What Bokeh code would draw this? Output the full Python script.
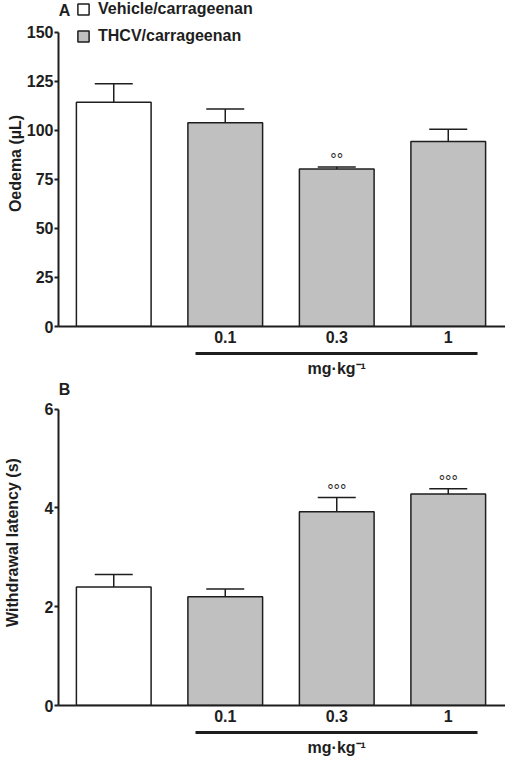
from bokeh.plotting import figure
from bokeh.models import (ColumnDataSource, FixedTicker, LinearAxis, Range1d,
                          Legend, LegendItem, Whisker, TeeHead, Label)
from bokeh.layouts import column
from bokeh.embed import file_html
from bokeh.resources import INLINE
from bokeh.core.properties import value

# ---------------- data ----------------
groups = ["Vehicle/carrageenan", "THCV/carrageenan", "THCV/carrageenan", "THCV/carrageenan"]
dose_labels = ["", "0.1", "0.3", "1"]
dose_unit = "mg·kg⁻¹"

oedema_mean = [114.2, 103.8, 80.3, 94.2]
oedema_sem = [9.5, 7.0, 1.0, 6.3]
oedema_sig = ["", "", "°°", ""]
oedema_ticks = [0, 25, 50, 75, 100, 125, 150]

latency_mean = [2.40, 2.20, 3.92, 4.28]
latency_sem = [0.25, 0.16, 0.29, 0.11]
latency_sig = ["", "", "°°°", "°°°"]
latency_ticks = [0, 2, 4, 6]

# ---------------- styles ----------------
FONT = "Liberation Sans"
INK = "#1e1e1e"
bar_fill = ["white", "#c0c0c0", "#c0c0c0", "#c0c0c0"]
W = 505
LEFT = 56
X_START = -0.4955
X_END = X_START + (W - LEFT) / 112.0
BRACKET = (0.737, 3.263)

xs = list(range(len(dose_labels)))


def build(mean, sem, sig, yticks, ylabel, y_end, letter, H, ylab_standoff,
          unit_standoff, legend):
    src = ColumnDataSource(dict(
        x=xs, top=mean, upper=[m + s for m, s in zip(mean, sem)],
        sig=sig, fill=bar_fill))
    p = figure(width=W, height=H, x_range=Range1d(X_START, X_END),
               y_range=Range1d(0, y_end), output_backend="svg",
               toolbar_location=None, min_border_left=LEFT, min_border_right=0,
               min_border_top=0, min_border_bottom=0,
               background_fill_color="white", border_fill_color="white")
    p.outline_line_color = None
    p.grid.visible = False

    r = p.vbar(x="x", top="top", bottom=0, width=0.67, fill_color="fill",
               line_color=INK, line_width=1.5, source=src)
    p.add_layout(Whisker(source=src, base="x", lower="top", upper="upper",
                         line_color=INK, line_width=1.5, lower_head=None,
                         upper_head=TeeHead(size=38, line_color=INK, line_width=1.5)))
    p.text(x="x", y="upper", text="sig", source=src, text_align="center",
           text_baseline="alphabetic", y_offset=-7, text_font=value(FONT),
           text_font_size="16px", text_color=INK)

    # y axis
    ya = p.yaxis[0]
    ya.ticker = FixedTicker(ticks=yticks)
    ya.bounds = (yticks[0], yticks[-1])
    ya.axis_label = ylabel
    ya.axis_label_standoff = ylab_standoff
    ya.axis_label_text_font = FONT
    ya.axis_label_text_font_style = "bold"
    ya.axis_label_text_font_size = "16px"
    ya.axis_label_text_color = INK
    ya.major_label_text_font = FONT
    ya.major_label_text_font_style = "bold"
    ya.major_label_text_font_size = "16px"
    ya.major_label_text_color = INK
    ya.major_label_standoff = 1
    ya.major_tick_out = 4
    ya.major_tick_in = 0
    ya.minor_tick_line_color = None
    ya.axis_line_width = 2
    ya.major_tick_line_width = 2
    ya.axis_line_color = INK
    ya.major_tick_line_color = INK

    # x axis with dose labels
    xa = p.xaxis[0]
    xa.ticker = FixedTicker(ticks=[x for x, l in zip(xs, dose_labels) if l])
    xa.major_label_overrides = {x: l for x, l in zip(xs, dose_labels) if l}
    xa.major_tick_line_color = None
    xa.minor_tick_line_color = None
    xa.major_tick_out = 0
    xa.major_tick_in = 0
    xa.major_label_standoff = 4
    xa.major_label_text_font = FONT
    xa.major_label_text_font_style = "bold"
    xa.major_label_text_font_size = "16px"
    xa.major_label_text_color = INK
    xa.axis_line_width = 2
    xa.axis_line_color = INK
    xa.axis_label = " "
    xa.axis_label_standoff = 0
    xa.axis_label_text_font_size = "4px"

    # bracket + unit
    ba = LinearAxis(bounds=BRACKET, ticker=FixedTicker(ticks=[xs[2]]),
                    major_label_overrides={xs[2]: dose_unit},
                    axis_line_width=3, axis_line_color=INK,
                    major_tick_line_color=None, minor_tick_line_color=None,
                    major_tick_out=0, major_tick_in=0,
                    major_label_standoff=unit_standoff,
                    major_label_text_font=FONT, major_label_text_font_style="bold",
                    major_label_text_font_size="16px", major_label_text_color=INK)
    p.add_layout(ba, "below")

    p.add_layout(Label(x=X_START, y=y_end, x_offset=6, y_offset=-10,
                       text=letter, text_align="center", text_baseline="middle",
                       text_font=FONT, text_font_style="bold",
                       text_font_size="16px", text_color=INK))

    if legend:
        lg = Legend(items=[LegendItem(label=groups[0], renderers=[r], index=0),
                           LegendItem(label=groups[1], renderers=[r], index=1)],
                    location=(18, 281), orientation="vertical",
                    glyph_width=14, glyph_height=14, label_standoff=8,
                    spacing=9, padding=0, margin=0, label_height=18,
                    border_line_color=None, background_fill_alpha=0,
                    label_text_font=FONT, label_text_font_style="bold",
                    label_text_font_size="16px", label_text_color=INK)
        p.add_layout(lg)
    return p


pA = build(oedema_mean, oedema_sem, oedema_sig, oedema_ticks, "Oedema (µL)",
           166.1, "A", 379, 0, 6, True)
pB = build(latency_mean, latency_sem, latency_sig, latency_ticks,
           "Withdrawal latency (s)", 6.599, "B", 379, 21, 6, False)

layout = column(pA, pB, spacing=0)
open("out.html", "w").write(file_html(layout, INLINE))
